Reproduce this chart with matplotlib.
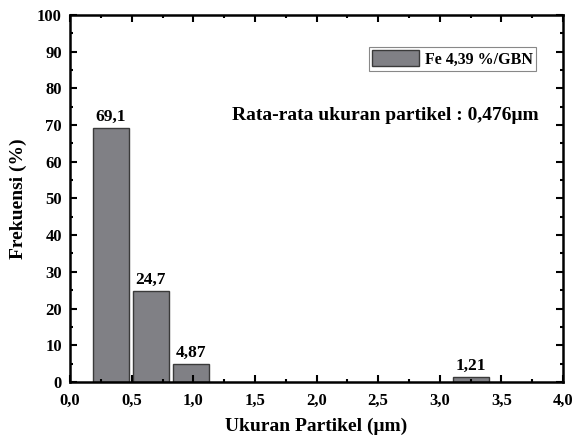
import matplotlib
matplotlib.use('Agg')
import matplotlib.pyplot as plt
from matplotlib.ticker import MultipleLocator, FuncFormatter

# bin centres (um) and frequency (%)
ukuran = [0.33, 0.655, 0.98, 3.255]
frekuensi = [69.1, 24.7, 4.87, 1.21]
label_bar = ['69,1', '24,7', '4,87', '1,21']
lebar = 0.295

plt.rcParams['font.family'] = ['Liberation Serif', 'DejaVu Serif']
plt.rcParams['font.weight'] = 'bold'

fig = plt.figure(figsize=(5.75, 4.4), dpi=100)
ax = fig.add_axes([0.122, 0.132, 0.857, 0.834])

ax.bar(ukuran, frekuensi, width=lebar, color='#808085', edgecolor='#3a3a3a',
       linewidth=1.0, label='Fe 4,39 %/GBN')
for x, y, t in zip(ukuran, frekuensi, label_bar):
    ax.text(x, y + 1.0, t, ha='center', va='bottom', fontsize=12.5, fontweight='bold')

ax.set_xlim(0, 4.0)
ax.set_ylim(0, 100)
ax.xaxis.set_major_locator(MultipleLocator(0.5))
ax.xaxis.set_minor_locator(MultipleLocator(0.25))
ax.yaxis.set_major_locator(MultipleLocator(10))
ax.yaxis.set_minor_locator(MultipleLocator(5))
ax.xaxis.set_major_formatter(FuncFormatter(lambda v, p: f'{v:.1f}'.replace('.', ',')))
ax.yaxis.set_major_formatter(FuncFormatter(lambda v, p: f'{v:.0f}'))
ax.tick_params(which='both', direction='in', top=True, right=True, width=1.5,
               labelsize=12)
ax.tick_params(which='major', length=5)
ax.tick_params(which='minor', length=2.5)
ax.tick_params(axis='x', which='major', pad=8)
ax.tick_params(axis='y', which='major', pad=6)
for s in ax.spines.values():
    s.set_linewidth(1.8)

ax.set_xlabel('Ukuran Partikel (μm)', fontsize=14, fontweight='bold', labelpad=6)
ax.set_ylabel('Frekuensi (%)', fontsize=14, fontweight='bold', labelpad=7)

ax.text(0.95, 0.727, 'Rata-rata ukuran partikel : 0,476μm', transform=ax.transAxes,
        ha='right', va='center', fontsize=14, fontweight='bold')

leg = ax.legend(loc='upper right', bbox_to_anchor=(0.962, 0.935), fontsize=11.5,
                fancybox=False, edgecolor='#888888', framealpha=1,
                handlelength=2.9, handleheight=1.2, borderpad=0.2,
                handletextpad=0.4)
leg.get_frame().set_linewidth(0.8)

fig.savefig('out.png', dpi=100)
